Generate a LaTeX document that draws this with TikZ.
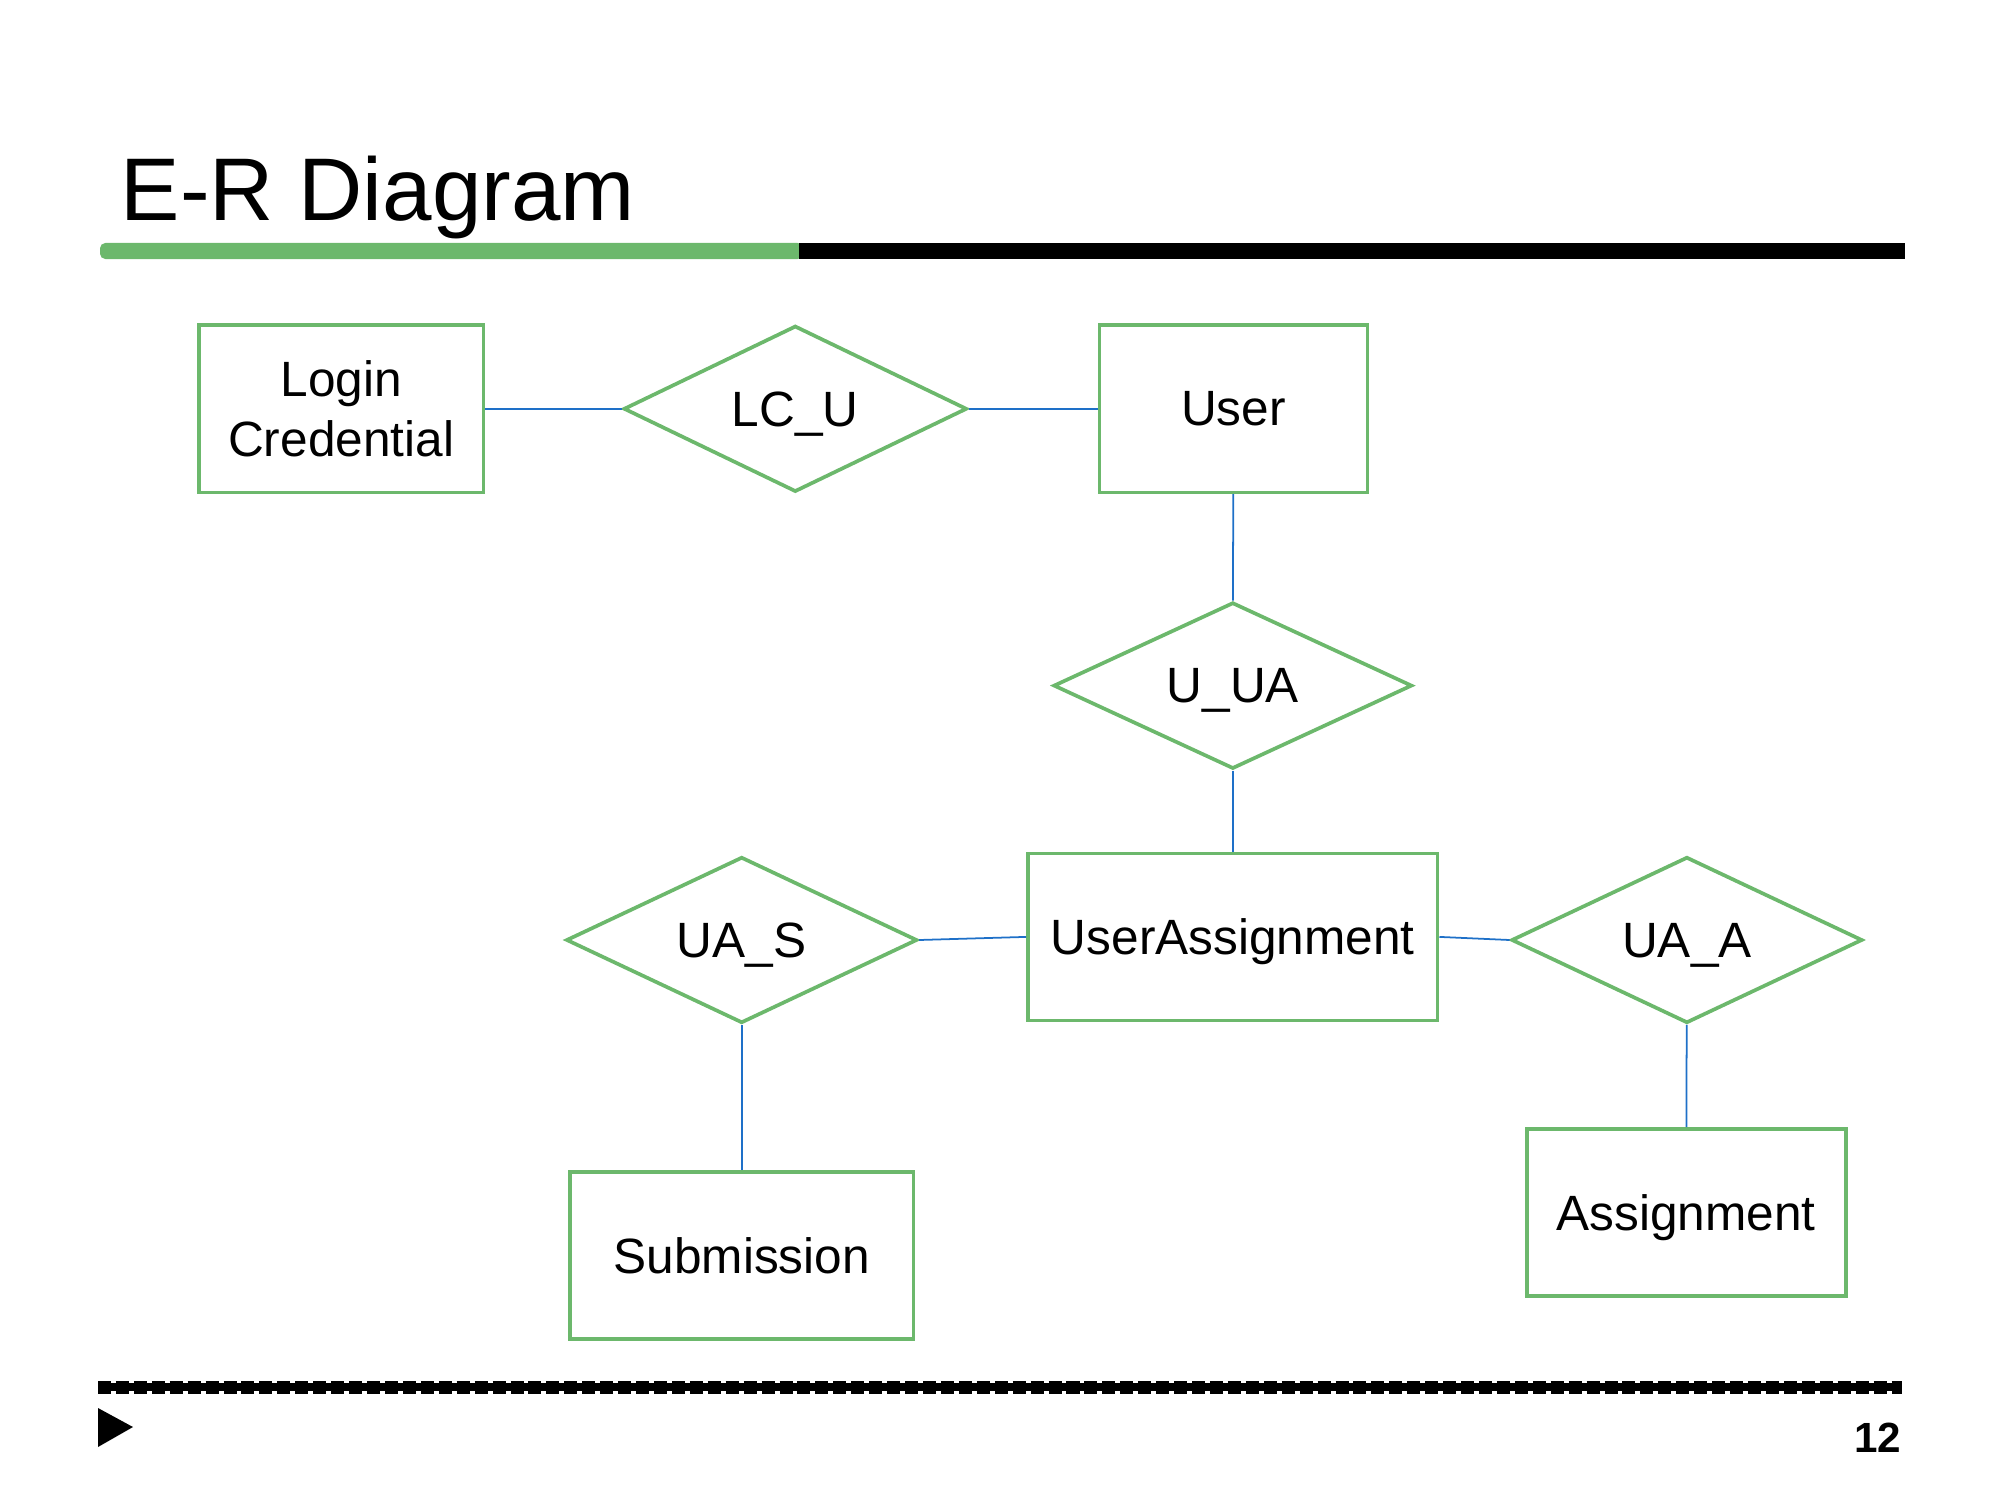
\documentclass[tikz,border=0pt]{standalone}
\usepackage{fontspec}
\setmainfont{Liberation Sans}
\usetikzlibrary{shapes.geometric}
\definecolor{ergreen}{RGB}{108,184,108}
\definecolor{erblue}{RGB}{30,112,200}
\begin{document}
\begin{tikzpicture}[x=0.01cm,y=-0.01cm,
  entity/.style={draw=ergreen, line width=1.05pt, rectangle, minimum width=#1, minimum height=1.67cm, inner sep=0pt, font=\fontsize{14.1}{17}\selectfont, align=center, fill=white},
  rel/.style={draw=ergreen, line width=1.05pt, diamond, minimum width=#1, minimum height=1.66cm, inner sep=0pt, font=\fontsize{14.1}{17}\selectfont, fill=white, text depth=0pt},
  flat/.style={text depth=0pt},
  link/.style={draw=erblue, line width=0.5pt}]
\useasboundingbox (0,0) rectangle (2000,1500);
% title and bars
\node[anchor=base west, inner sep=0pt, font=\fontsize{25.3}{30}\selectfont] (title) at (120,221) {E-R Diagram};
\fill[ergreen, rounded corners=1.5pt] (100,243) rectangle (803,259);
\fill[black] (799,243) rectangle (1905,259);
% nodes
\node[entity=2.844cm] (lc) at (341.2,408.8) {Login\\Credential};
\node[rel=3.431cm] (lcu) at (795.3,408.8) {LC\_U};
\node[entity=2.679cm, flat] (user) at (1233.4,408.8) {User};
\node[rel=3.584cm] (uua) at (1232.8,685.6) {U\_UA};
\node[entity=4.094cm, flat] (ua) at (1232.8,936.9) {UserAssignment};
\node[rel=3.508cm] (uas) at (741.7,940) {UA\_S};
\node[rel=3.508cm] (uaa) at (1686.9,940) {UA\_A};
\node[entity=3.431cm, flat] (sub) at (741.7,1255.7) {Submission};
\node[entity=3.188cm, flat] (asg) at (1686.2,1212.4) {Assignment};
% connectors
\draw[link] (lc) -- (lcu);
\draw[link] (lcu) -- (user);
\draw[link] (user) -- (uua);
\draw[link] (uua) -- (ua);
\draw[link] (ua.west) -- (uas.east);
\draw[link] (ua.east) -- (uaa.west);
\draw[link] (uas) -- (sub);
\draw[link] (uaa) -- (asg);
% footer
\draw[black, line width=2pt] (98,1387) -- (1902,1387);
\draw[black, line width=3.7pt, dash pattern=on 3.7pt off 1.4pt] (98,1387) -- (1902,1387);
\fill[black] (98,1408) -- (133,1427) -- (98,1447) -- cycle;
\node[anchor=base east, inner sep=0pt, font=\bfseries\fontsize{12}{14}\selectfont] (pg) at (1902,1452) {12};
\end{tikzpicture}
\end{document}
